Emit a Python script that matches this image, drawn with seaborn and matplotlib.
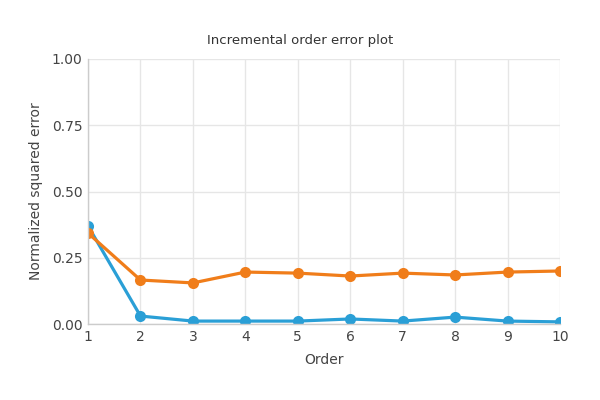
import numpy as np
import pandas as pd
import matplotlib
matplotlib.use('Agg')
import matplotlib.pyplot as plt
import seaborn as sns

# values
orders = [1, 2, 3, 4, 5, 6, 7, 8, 9, 10]
blue_err = [0.37, 0.030, 0.011, 0.011, 0.011, 0.019, 0.011, 0.026, 0.011, 0.008]
orange_err = [0.343, 0.166, 0.155, 0.196, 0.192, 0.181, 0.192, 0.185, 0.196, 0.200]

sns.set_theme(style='whitegrid')
plt.rcParams['font.family'] = ['DejaVu Sans']

df = pd.DataFrame({
    'Order': orders * 2,
    'err': blue_err + orange_err,
    'series': ['a'] * len(orders) + ['b'] * len(orders),
})

fig = plt.figure(figsize=(6, 4), dpi=100)
ax = fig.add_axes([0.1467, 0.19, 0.7866, 0.6625])

sns.lineplot(data=df, x='Order', y='err', hue='series',
             palette={'a': '#2a9fd6', 'b': '#f07d1a'},
             marker='o', markersize=8, markeredgewidth=0,
             linewidth=2.3, legend=False, ax=ax, clip_on=True)

ax.set_xlim(1, 10)
ax.set_ylim(0, 1)
ax.set_xticks(orders)
ax.set_yticks([0, 0.25, 0.5, 0.75, 1.0])
ax.set_yticklabels(['0.00', '0.25', '0.50', '0.75', '1.00'])
ax.grid(True, color='#e6e6e6', linewidth=1)
for s in ['top', 'right']:
    ax.spines[s].set_visible(False)
for s in ['left', 'bottom']:
    ax.spines[s].set_color('#cccccc')
    ax.spines[s].set_linewidth(1)
ax.tick_params(axis='both', labelsize=10, colors='#444444', length=0, pad=4)

ax.set_xlabel('Order', fontsize=10, color='#444444', labelpad=7)
ax.set_ylabel('Normalized squared error', fontsize=10, color='#444444', labelpad=6)
fig.text(0.5, 0.89, 'Incremental order error plot', ha='center', fontsize=9.5, color='#333333')

fig.savefig('out.png', dpi=100, facecolor='white')
